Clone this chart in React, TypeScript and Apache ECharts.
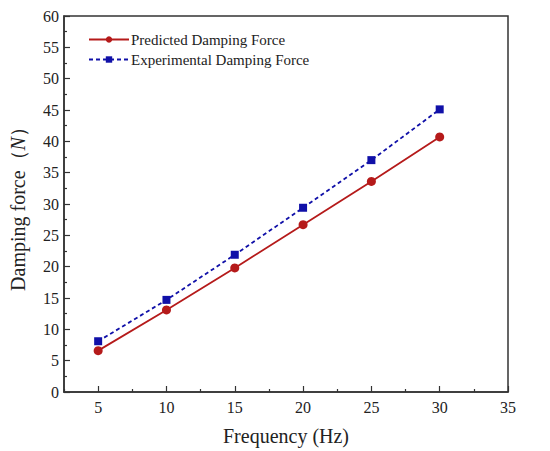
import React, { useEffect, useRef } from "react";
import * as echarts from "echarts";

const frequencies = [5, 10, 15, 20, 25, 30];
const predicted = [6.6, 13.1, 19.8, 26.7, 33.6, 40.7];
const experimental = [8.1, 14.7, 21.9, 29.4, 37.0, 45.1];
const xMajorTicks = [5, 10, 15, 20, 25, 30, 35];
const xMinorTicks = [2.5, 7.5, 12.5, 17.5, 22.5, 27.5, 32.5];

const FONT = "Liberation Serif";
const RED = "#b51a1a";
const BLUE = "#1010a8";
const AXIS = "#333333";

export default function App() {
  const ref = useRef<HTMLDivElement>(null);
  useEffect(() => {
    if (!ref.current) return;
    const chart = echarts.init(ref.current, undefined, { renderer: "svg" });
    chart.setOption({
      animation: false,
      backgroundColor: "#ffffff",
      textStyle: { fontFamily: FONT },
      grid: {
        left: 62,
        right: 42,
        top: 16,
        bottom: 57,
        show: true,
        borderColor: AXIS,
        borderWidth: 1.5,
        backgroundColor: "transparent",
      },
      legend: {
        left: 88,
        top: 32,
        padding: 0,
        orient: "vertical",
        itemWidth: 40,
        itemHeight: 8,
        itemGap: 5,
        textStyle: { fontFamily: FONT, fontSize: 15, color: "#222", padding: [0, 0, 0, -3] },
        data: ["Predicted Damping Force", "Experimental Damping Force"],
      },
      xAxis: [
        {
          type: "value",
          min: 2.5,
          max: 35,
          name: "Frequency (Hz)",
          nameLocation: "middle",
          nameGap: 34,
          nameTextStyle: { fontFamily: FONT, fontSize: 20, color: "#222" },
          axisLine: { show: true, lineStyle: { color: AXIS, width: 1.5 } },
          axisTick: {
            show: true,
            inside: true,
            length: 6,
            customValues: xMajorTicks,
            lineStyle: { color: AXIS, width: 1.2 },
          },
          axisLabel: {
            customValues: xMajorTicks,
            margin: 7,
            fontFamily: FONT,
            fontSize: 16,
            color: "#222",
          },
          splitLine: { show: false },
        },
        {
          type: "value",
          min: 2.5,
          max: 35,
          position: "bottom",
          axisLine: { show: false },
          axisTick: {
            show: true,
            inside: true,
            length: 3,
            customValues: xMinorTicks,
            lineStyle: { color: AXIS, width: 1.2 },
          },
          axisLabel: { show: false },
          splitLine: { show: false },
        },
      ],
      yAxis: {
        type: "value",
        min: 0,
        max: 60,
        interval: 5,
        name: "Damping force（{i|N}）",
        nameLocation: "middle",
        nameGap: 36,
        nameTextStyle: {
          fontFamily: FONT,
          fontSize: 20,
          color: "#222",
          rich: { i: { fontFamily: FONT, fontSize: 20, fontStyle: "italic", color: "#222" } },
        },
        axisLine: { show: true, lineStyle: { color: AXIS, width: 1.5 } },
        axisTick: { show: true, inside: true, length: 6, lineStyle: { color: AXIS, width: 1.2 } },
        minorTick: { show: true, splitNumber: 2, length: 3, lineStyle: { color: AXIS, width: 1.2 } },
        axisLabel: { margin: 5, fontFamily: FONT, fontSize: 16, color: "#222" },
        splitLine: { show: false },
        minorSplitLine: { show: false },
      },
      series: [
        {
          name: "Predicted Damping Force",
          type: "line",
          data: frequencies.map((f, i) => [f, predicted[i]]),
          symbol: "circle",
          symbolSize: 9,
          itemStyle: { color: RED },
          lineStyle: { color: RED, width: 1.8 },
        },
        {
          name: "Experimental Damping Force",
          type: "line",
          data: frequencies.map((f, i) => [f, experimental[i]]),
          symbol: "rect",
          symbolSize: 8,
          itemStyle: { color: BLUE },
          lineStyle: { color: BLUE, width: 1.8, type: [4, 3] },
        },
      ],
    });
    return () => chart.dispose();
  }, []);
  return (
    <div
      ref={ref}
      style={{ position: "absolute", left: 0, top: 0, width: 550, height: 451 }}
    />
  );
}
